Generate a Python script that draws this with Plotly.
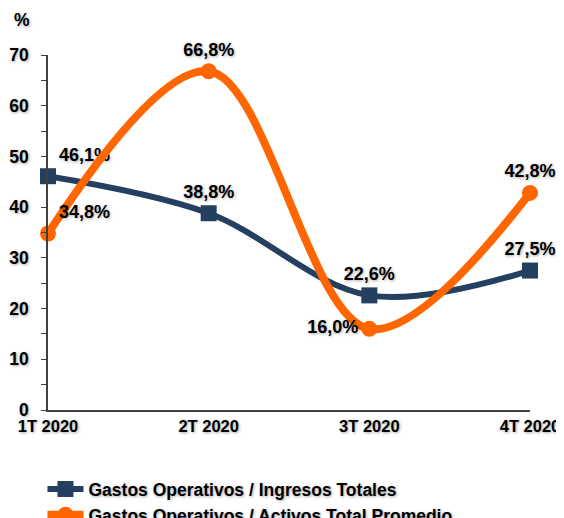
import plotly.graph_objects as go

categories = ["1T 2020", "2T 2020", "3T 2020", "4T 2020"]
ingresos = [46.1, 38.8, 22.6, 27.5]
activos = [34.8, 66.8, 16.0, 42.8]
ingresos_labels = ["46,1%", "38,8%", "22,6%", "27,5%"]
activos_labels = ["34,8%", "66,8%", "16,0%", "42,8%"]
y_ticks = [0, 10, 20, 30, 40, 50, 60, 70]

NAVY = "#243F60"
ORANGE = "#FF6600"
FONT = "Liberation Sans"
FS = 17.5
SHADOW = "1px 1px 3px rgba(0,0,0,0.35)"

def bold_font(size=FS):
    return dict(family=FONT, size=size, color="black", weight="bold", shadow=SHADOW)

fig = go.Figure()
fig.add_trace(go.Scatter(
    x=categories, y=ingresos, name="Gastos Operativos / Ingresos Totales",
    mode="lines+markers+text", line=dict(color=NAVY, width=6, shape="spline", smoothing=1.0),
    marker=dict(symbol="square", size=16, color=NAVY),
    text=ingresos_labels,
    textposition=["top right", "top center", "top center", "top center"],
    textfont=bold_font(18),
    cliponaxis=False,
))
fig.add_trace(go.Scatter(
    x=categories, y=activos, name="Gastos Operativos / Activos Total Promedio",
    mode="lines+markers+text", line=dict(color=ORANGE, width=8, shape="spline", smoothing=1.0),
    marker=dict(symbol="circle", size=16, color=ORANGE),
    text=activos_labels,
    textposition=["top right", "top center", "middle left", "top center"],
    textfont=bold_font(18),
    cliponaxis=False,
))

fig.update_layout(
    width=556, height=510,
    margin=dict(l=40, r=34, t=47, b=108, autoexpand=False),
    paper_bgcolor="white", plot_bgcolor="white",
    font=dict(family=FONT, size=FS, color="black", weight="bold"),
    showlegend=True,
    legend=dict(x=0.062, y=0.092, xref="container", yref="container", xanchor="left", yanchor="top",
                font=bold_font(FS), tracegroupgap=0, itemwidth=36),
    annotations=[dict(text="%", xref="paper", yref="paper", x=-0.054, y=1.099,
                      xanchor="center", yanchor="middle", showarrow=False,
                      font=bold_font(FS))],
)
fig.update_xaxes(type="category", range=[0, 3], showline=True, linecolor="#404040", linewidth=1.5,
                 ticks="", showgrid=False, zeroline=False, tickfont=bold_font(16.5))
fig.update_yaxes(range=[0, 70], tickvals=y_ticks, showline=True, linecolor="#404040", linewidth=1.5,
                 ticks="outside", ticklen=5, tickcolor="#404040", showgrid=False, zeroline=False,
                 minor=dict(dtick=5, ticks="outside", ticklen=5, tickcolor="#404040", showgrid=False),
                 ticklabelstandoff=9, tickfont=bold_font(FS))

fig.write_html("out.html")
